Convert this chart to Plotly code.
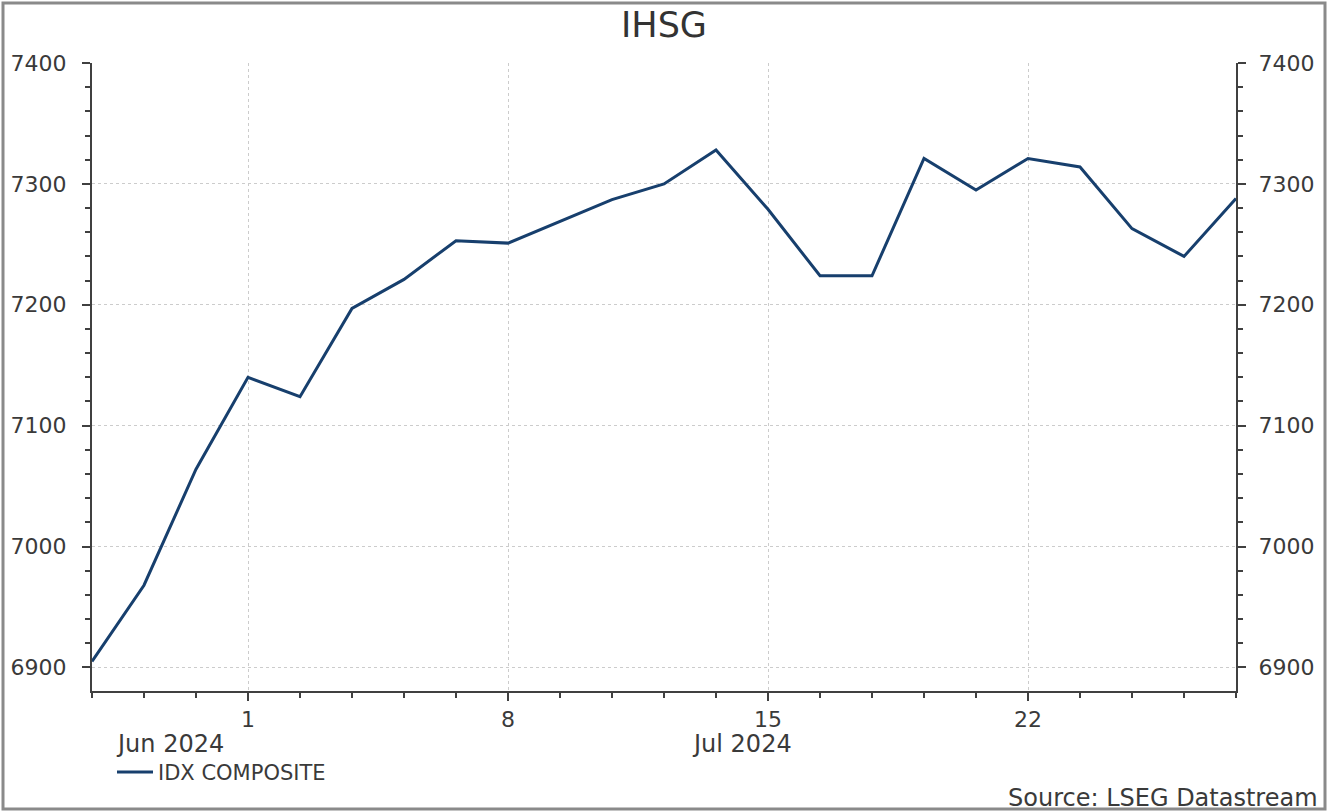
import plotly.graph_objects as go

# Business days (x positions are the ordinal of each trading day)
dates = ["2024-06-26", "2024-06-27", "2024-06-28",
         "2024-07-01", "2024-07-02", "2024-07-03", "2024-07-04", "2024-07-05",
         "2024-07-08", "2024-07-09", "2024-07-10", "2024-07-11", "2024-07-12",
         "2024-07-15", "2024-07-16", "2024-07-17", "2024-07-18", "2024-07-19",
         "2024-07-22", "2024-07-23", "2024-07-24", "2024-07-25", "2024-07-26"]
values = [6905, 6968, 7064,
          7140, 7124, 7197, 7221, 7253,
          7251, 7269, 7287, 7300, 7328,
          7279, 7224, 7224, 7321, 7295,
          7321, 7314, 7263, 7240, 7288]
tick_dates = ["2024-07-01", "2024-07-08", "2024-07-15", "2024-07-22"]
tick_labels = ["1", "8", "15", "22"]
month_labels = ["Jun 2024", "Jul 2024"]
y_ticks = [6900, 7000, 7100, 7200, 7300, 7400]
series_name = "IDX COMPOSITE"

idx = list(range(len(dates)))
tick_pos = [dates.index(d) for d in tick_dates]
jun_idx = [i for i, d in enumerate(dates) if d.startswith("2024-06")]
jul_idx = [i for i, d in enumerate(dates) if d.startswith("2024-07")]
month_centers = [(jun_idx[0] + jul_idx[0]) / 2, (jul_idx[0] + jul_idx[-1]) / 2]

LINE = "#173f6d"
AX = "#404040"
TXT = "#3a3a3a"
FONT = "DejaVu Sans, Verdana, sans-serif"

fig = go.Figure()
fig.add_trace(go.Scatter(x=idx, y=values, mode="lines", name=series_name,
                         line=dict(color=LINE, width=3), yaxis="y"))
fig.add_trace(go.Scatter(x=idx, y=values, mode="lines", showlegend=False,
                         line=dict(color=LINE, width=0), opacity=0,
                         hoverinfo="skip", yaxis="y2"))

yrange = [6880.5, 7400]
common_y = dict(range=yrange, tickvals=y_ticks, ticks="outside", ticklen=8,
                tickwidth=2, tickcolor=AX, showline=True, linecolor=AX, linewidth=2,
                tickfont=dict(size=22, color=TXT, family=FONT),
                minor=dict(dtick=20, tick0=6900, ticks="outside", ticklen=5,
                           tickwidth=2, tickcolor=AX, showgrid=False),
                zeroline=False, fixedrange=True)

fig.update_layout(
    width=1328, height=812,
    margin=dict(l=92, r=92, t=63, b=121),
    paper_bgcolor="white", plot_bgcolor="white",
    font=dict(family=FONT, color=TXT),
    title=dict(text="IHSG", x=0.5, xanchor="center", y=0.969, yanchor="middle",
               font=dict(size=35, color="#333333", family=FONT)),
    xaxis=dict(range=[idx[0], idx[-1]], tickvals=tick_pos, ticktext=tick_labels,
               ticks="outside", ticklen=8, tickwidth=2, tickcolor=AX,
               showline=True, linecolor=AX, linewidth=2,
               showgrid=True, gridcolor="#cccccc", griddash="dot", gridwidth=1,
               minor=dict(dtick=1, tick0=0, ticks="outside", ticklen=5,
                          tickwidth=2, tickcolor=AX, showgrid=False),
               tickfont=dict(size=22, color=TXT, family=FONT),
               zeroline=False, fixedrange=True),
    yaxis=dict(side="left", showgrid=True, gridcolor="#cccccc", griddash="dot",
               gridwidth=1, ticklabelstandoff=11, **common_y),
    yaxis2=dict(side="right", overlaying="y", showgrid=False,
                ticklabelstandoff=8, **common_y),
    showlegend=True,
    legend=dict(x=20 / 1144, y=-0.097, xanchor="left", yanchor="top",
                font=dict(size=21, color=TXT, family=FONT),
                itemwidth=36, bgcolor="rgba(0,0,0,0)"),
)

for c, lab in zip(month_centers, month_labels):
    fig.add_annotation(x=c, y=-0.085, xref="x", yref="paper", text=lab,
                       showarrow=False, yanchor="middle",
                       font=dict(size=24, color=TXT, family=FONT))

fig.add_annotation(x=1.073, y=-0.171, xref="paper", yref="paper",
                   text="Source: LSEG Datastream", showarrow=False,
                   xanchor="right", yanchor="middle",
                   font=dict(size=24, color=TXT, family=FONT))

# outer frame
fig.add_shape(type="rect", xref="paper", yref="paper",
              x0=(3 - 92) / 1144, x1=(1325 - 92) / 1144,
              y0=(691 - 809) / 628, y1=(691 - 3) / 628,
              line=dict(color="#8a8a8a", width=3), fillcolor="rgba(0,0,0,0)",
              layer="below")

fig.write_html("out.html", config={"displayModeBar": False},
               post_script="document.body.style.margin='0';"
                           "document.body.style.overflow='hidden';")
